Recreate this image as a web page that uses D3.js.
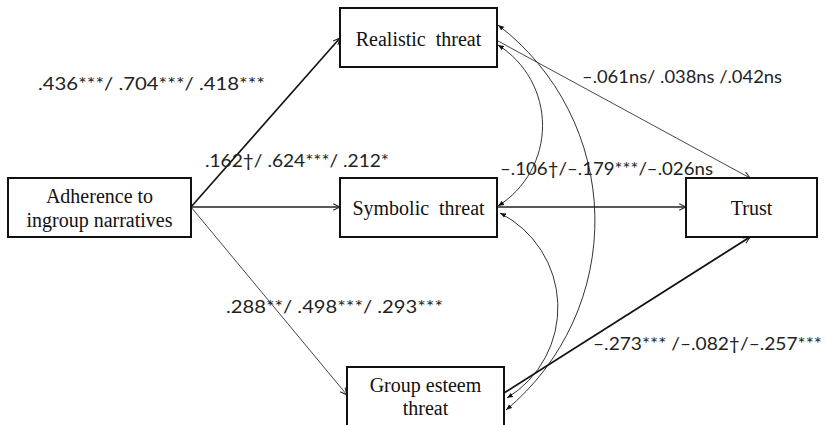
<!DOCTYPE html>
<html>
<head>
<meta charset="utf-8">
<script src="https://cdn.jsdelivr.net/npm/d3@7"></script>
<style>
  body { margin: 0; background: #fff; }
  svg { display: block; }
</style>
</head>
<body>
<svg id="chart" width="826" height="425"></svg>
<script>
// constructs in the model
var nodeIds = ["adherence", "realistic", "symbolic", "esteem", "trust"];
var nodeLabels = [["Adherence to", "ingroup narratives"], ["Realistic  threat"], ["Symbolic  threat"], ["Group esteem", "threat"], ["Trust"]];

// directed paths and their coefficients (study 1 / study 2 / study 3)
var pathFrom = ["adherence", "adherence", "adherence", "realistic", "symbolic", "esteem"];
var pathTo = ["realistic", "symbolic", "esteem", "trust", "trust", "trust"];
var pathCoefs = [".436***/ .704***/ .418***", ".162\u2020/ .624***/ .212*", ".288**/ .498***/ .293***",
                 "\u2013.061ns/ .038ns /.042ns", "\u2013.106\u2020/\u2013.179***/\u2013.026ns", "\u2013.273*** /\u2013.082\u2020/\u2013.257***"];

// correlated threats
var covFrom = ["realistic", "realistic", "symbolic"];
var covTo = ["symbolic", "esteem", "esteem"];

// ---- layout (pixels) ----
var boxes = {
    adherence: {x: 8, y: 178, w: 183, h: 59},
    realistic: {x: 340, y: 8, w: 157, h: 59},
    symbolic: {x: 340, y: 178, w: 157, h: 59},
    esteem: {x: 347, y: 367, w: 157, h: 75},
    trust: {x: 686, y: 178, w: 131, h: 59}
};
var lineY = {adherence: [203, 227], realistic: [46], symbolic: [215], esteem: [392, 415], trust: [215]};

// anchor points for each path [start, end]
var pathAnchors = [
    [[191, 207], [340, 38]],
    [[191, 207], [340, 207]],
    [[191, 207], [347, 395]],
    [[498, 41], [750, 178]],
    [[497, 207], [686, 207]],
    [[504, 393], [750, 237]]
];
var pathWidths = [1.6, 1.3, 1.0, 0.9, 1.4, 1.8];
var pathColors = ["#111", "#222", "#444", "#333", "#222", "#111"];
var labelPos = [[38, 90, 227], [205, 167, 184], [226, 313, 217], [582, 83, 200], [500, 175, 213], [593, 350, 229]];

var covAnchors = [
    [[498, 45], [498, 206]],
    [[498, 25], [506, 410]],
    [[500, 213], [507, 398]]
];
var covRadius = [95, 246, 106];

var svg = d3.select("#chart");
var defs = svg.append("defs");

defs.append("marker")
    .attr("id", "open")
    .attr("viewBox", "0 0 10 10")
    .attr("refX", 9.5).attr("refY", 5)
    .attr("markerWidth", 8).attr("markerHeight", 8)
    .attr("markerUnits", "userSpaceOnUse")
    .attr("orient", "auto-start-reverse")
    .append("path")
    .attr("d", "M1,1 L9.5,5 L1,9")
    .attr("fill", "none")
    .attr("stroke", "#222")
    .attr("stroke-width", 1.3);

defs.append("marker")
    .attr("id", "solid")
    .attr("viewBox", "0 0 10 10")
    .attr("refX", 10).attr("refY", 5)
    .attr("markerWidth", 6).attr("markerHeight", 6)
    .attr("markerUnits", "userSpaceOnUse")
    .attr("orient", "auto-start-reverse")
    .append("path")
    .attr("d", "M0,1 L10,5 L0,9 Z")
    .attr("fill", "#111");

// covariance arcs (drawn first, under the boxes)
svg.append("g").selectAll("path")
    .data(covFrom.map(function(d, i) { return {from: d, to: covTo[i], a: covAnchors[i], r: covRadius[i]}; }))
    .join("path")
    .attr("d", function(d) {
        var p0 = d.a[0], p1 = d.a[1];
        return "M" + p0[0] + "," + p0[1] + " A" + d.r + "," + d.r + " 0 0,1 " + p1[0] + "," + p1[1];
    })
    .attr("fill", "none")
    .attr("stroke", "#333")
    .attr("stroke-width", 1)
    .attr("marker-start", "url(#solid)")
    .attr("marker-end", "url(#solid)");

// regression paths
var line = d3.line();
svg.append("g").selectAll("path")
    .data(pathFrom.map(function(d, i) { return {from: d, to: pathTo[i], a: pathAnchors[i], i: i}; }))
    .join("path")
    .attr("d", function(d) { return line(d.a); })
    .attr("fill", "none")
    .attr("stroke", function(d) { return pathColors[d.i]; })
    .attr("stroke-width", function(d) { return pathWidths[d.i]; })
    .attr("marker-end", "url(#open)");

// boxes
var node = svg.append("g").selectAll("g")
    .data(nodeIds.map(function(id, i) { return {id: id, lines: nodeLabels[i]}; }))
    .join("g");

node.append("rect")
    .attr("x", function(d) { return boxes[d.id].x; })
    .attr("y", function(d) { return boxes[d.id].y; })
    .attr("width", function(d) { return boxes[d.id].w; })
    .attr("height", function(d) { return boxes[d.id].h; })
    .attr("fill", "#fff")
    .attr("stroke", "#111")
    .attr("stroke-width", 2);

node.selectAll("text")
    .data(function(d) { return d.lines.map(function(t, j) { return {id: d.id, t: t, j: j}; }); })
    .join("text")
    .attr("x", function(d) { return boxes[d.id].x + boxes[d.id].w / 2; })
    .attr("y", function(d) { return lineY[d.id][d.j]; })
    .attr("text-anchor", "middle")
    .style("font-family", "'Liberation Serif', 'Times New Roman', serif")
    .style("font-size", "20px")
    .style("white-space", "pre")
    .attr("fill", "#111")
    .text(function(d) { return d.t; });

// coefficient labels
svg.append("g").selectAll("text")
    .data(pathCoefs)
    .join("text")
    .attr("x", function(d, i) { return labelPos[i][0]; })
    .attr("y", function(d, i) { return labelPos[i][1]; })
    .attr("textLength", function(d, i) { return labelPos[i][2]; })
    .attr("lengthAdjust", "spacingAndGlyphs")
    .style("font-family", "Lato, 'Open Sans', sans-serif")
    .style("font-size", "18px")
    .attr("fill", "#222")
    .text(function(d) { return d; });
</script>
</body>
</html>
